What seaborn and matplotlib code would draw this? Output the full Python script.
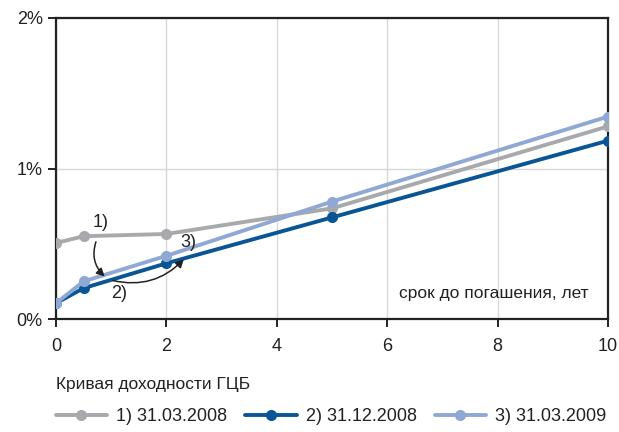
import matplotlib
matplotlib.use('Agg')
import matplotlib.pyplot as plt
import seaborn as sns
import pandas as pd

# maturity, years
years = [0, 0.5, 2, 5, 10]
# yields, %
curve_2008_03 = [0.505, 0.55, 0.565, 0.735, 1.28]
curve_2008_12 = [0.105, 0.205, 0.37, 0.675, 1.185]
curve_2009_03 = [0.105, 0.25, 0.42, 0.78, 1.345]
series_names = ['1) 31.03.2008', '2) 31.12.2008', '3) 31.03.2009']
colours = ['#a7a9ac', '#0a5596', '#8fa8d4']

xticks = [0, 2, 4, 6, 8, 10]
yticks = [0, 1, 2]
ytick_labels = ['0%', '1%', '2%']

sns.set_theme(style='white')
plt.rcParams['font.family'] = ['Liberation Sans', 'DejaVu Sans']

rows = []
for name, vals in zip(series_names, [curve_2008_03, curve_2008_12, curve_2009_03]):
    for x, y in zip(years, vals):
        rows.append({'years': x, 'yield': y, 'series': name})
df = pd.DataFrame(rows)

fig = plt.figure(figsize=(6.19, 4.32), dpi=100)
ax = fig.add_axes([56 / 619, 1 - 319 / 432, (608 - 56) / 619, (319 - 18) / 432])

sns.lineplot(data=df, x='years', y='yield', hue='series', hue_order=series_names,
             palette=colours, marker='o', markersize=8, markeredgewidth=0,
             linewidth=2.8, ax=ax, zorder=3)

ax.set_xlim(0, 10)
ax.set_ylim(0, 2)
ax.set_xticks(xticks)
ax.set_yticks(yticks)
ax.set_yticklabels(ytick_labels)
ax.grid(True, color='#d8d8d8', linewidth=1)
ax.set_axisbelow(True)
for sp in ax.spines.values():
    sp.set_color('#222222')
    sp.set_linewidth(1.6)
ax.tick_params(axis='both', direction='out', length=6, width=1.4, color='#222222',
               labelsize=13, labelcolor='#222222', left=True, bottom=True)
ax.tick_params(axis='x', pad=8)
ax.set_xlabel('')
ax.set_ylabel('')

ax.text(9.65, 0.17, 'срок до погашения, лет', ha='right', va='center',
        fontsize=12.5, color='#222222')

# annotations
ax.text(0.8, 0.64, '1)', ha='center', va='center', fontsize=13, color='#222222')
ax.text(1.14, 0.17, '2)', ha='center', va='center', fontsize=13, color='#222222')
ax.text(2.4, 0.51, '3)', ha='center', va='center', fontsize=13, color='#222222')
ax.annotate('', xy=(0.92, 0.27), xytext=(0.74, 0.53),
            arrowprops=dict(arrowstyle='-|>', color='#222222', lw=1.1,
                            connectionstyle='arc3,rad=0.35', mutation_scale=12))
ax.annotate('', xy=(2.35, 0.41), xytext=(0.98, 0.26),
            arrowprops=dict(arrowstyle='-|>', color='#222222', lw=1.1,
                            connectionstyle='arc3,rad=0.3', mutation_scale=12))

handles, labels = ax.get_legend_handles_labels()
leg = ax.legend(handles=handles, labels=labels, title='Кривая доходности ГЦБ',
                loc='upper left', bbox_to_anchor=(0.078, 0.145), bbox_transform=fig.transFigure,
                ncol=3, frameon=False, fontsize=13, title_fontsize=12.5,
                handlelength=2.85, columnspacing=1.0, handletextpad=0.5,
                labelspacing=0.9, borderaxespad=0)
leg._legend_box.align = 'left'
for t in leg.get_texts():
    t.set_color('#222222')
leg.get_title().set_color('#222222')

fig.savefig('out.png', dpi=100)
